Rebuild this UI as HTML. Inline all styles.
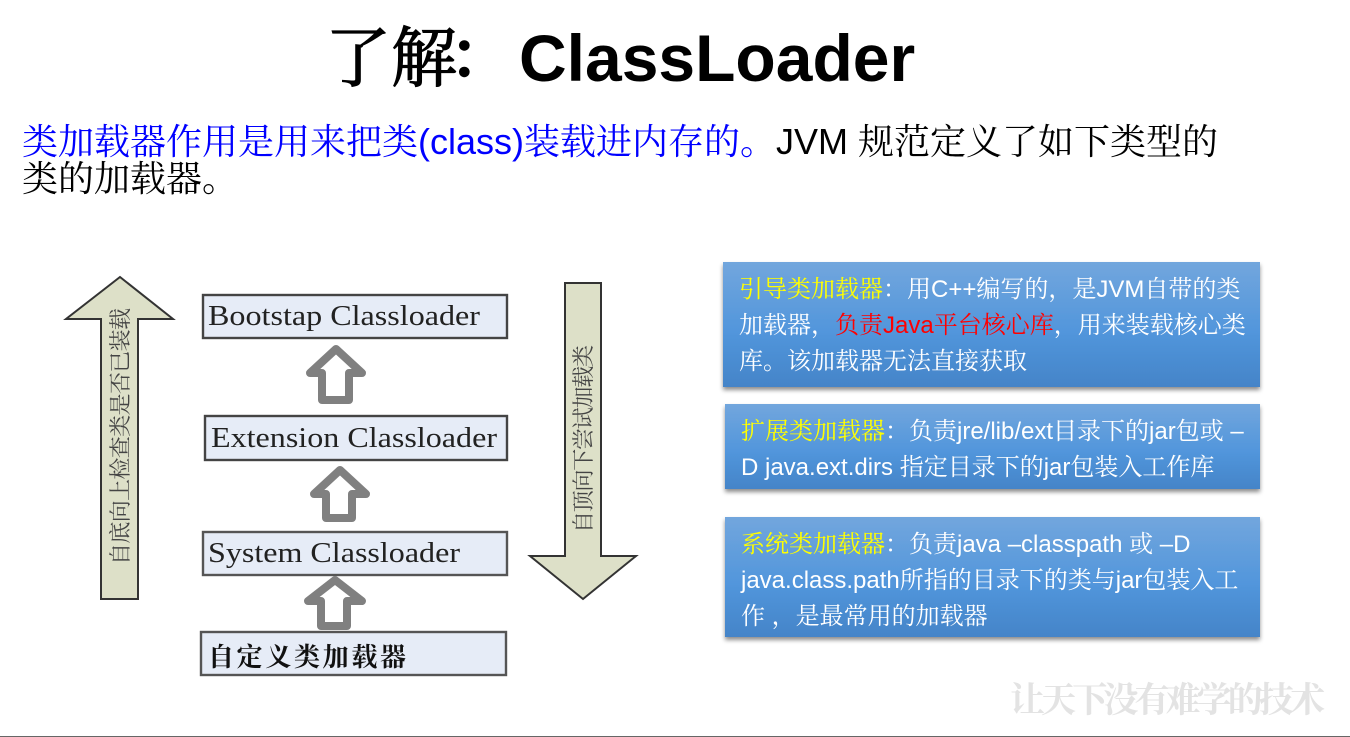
<!DOCTYPE html>
<html lang="zh">
<head>
<meta charset="utf-8">
<title>了解:ClassLoader</title>
<style>
html,body{margin:0;padding:0;background:#fff;width:1350px;height:737px;overflow:hidden}
svg{display:block;position:absolute;left:0;top:0}
text{white-space:pre}
.s{font-family:"Liberation Sans","Noto Serif CJK SC",serif}
.w{font-family:"Liberation Sans","Noto Serif CJK SC",serif}
.lab{font-family:"Liberation Serif",serif;font-size:28px;fill:#222}
.v{font-family:"Noto Serif CJK SC",serif;font-size:22px;fill:#444}
.b{font-size:24px;fill:#fff}
.y{fill:#ff0}
.r{fill:#f00}
</style>
</head>
<body>
<svg width="1350" height="737" viewBox="0 0 1350 737" xmlns="http://www.w3.org/2000/svg">
<defs>
<linearGradient id="g" x1="0" y1="0" x2="0" y2="1">
<stop offset="0" stop-color="#72a6dd"/>
<stop offset=".55" stop-color="#5296dc"/>
<stop offset="1" stop-color="#4484c8"/>
</linearGradient>
<filter id="sh" x="-5%" y="-10%" width="110%" height="125%">
<feDropShadow dx="0" dy="3" stdDeviation="2.2" flood-color="#000" flood-opacity=".45"/>
</filter>
</defs>

<text class="s" x="325" y="81" font-size="66" fill="#000" stroke="#000" stroke-width="1.2">了解</text>
<text class="s" x="449" y="78" font-size="66" fill="#000" stroke="#000" stroke-width="2.5">&#xFF1A;</text>
<text class="s" x="519" y="81" font-size="66" font-weight="700" fill="#000">ClassLoader</text>

<text class="s" x="22" y="154" font-size="36" fill="#000"><tspan fill="#0000ff">类加载器作用是用来把类(class)装载进内存的。</tspan>JVM 规范定义了如下类型的</text>
<text class="s" x="22" y="191" font-size="36" fill="#000">类的加载器。</text>

<polygon points="120,277 173,319 138,319 138,599 101,599 101,319 66,319" fill="#dde0c8" stroke="#333" stroke-width="2"/>
<polygon points="565,283 601,283 601,556 636,556 583,599 530,556 565,556" fill="#dde0c8" stroke="#333" stroke-width="2"/>
<text class="v" transform="translate(128,565) rotate(-90)" textLength="257">自底向上检查类是否已装载</text>
<text class="v" transform="translate(591,533) rotate(-90)" textLength="188">自顶向下尝试加载类</text>

<rect x="203" y="295" width="304" height="43" fill="#e6ecf7" stroke="#444" stroke-width="2.4"/>
<rect x="205" y="416" width="302" height="44" fill="#e6ecf7" stroke="#444" stroke-width="2.4"/>
<rect x="203" y="532" width="304" height="43" fill="#e6ecf7" stroke="#555" stroke-width="2.4"/>
<rect x="201" y="632" width="305" height="43" fill="#e6ecf7" stroke="#555" stroke-width="2.4"/>
<text class="lab" x="208" y="325" textLength="272" lengthAdjust="spacingAndGlyphs">Bootstap Classloader</text>
<text class="lab" x="211" y="447" textLength="286" lengthAdjust="spacingAndGlyphs">Extension Classloader</text>
<text class="lab" x="208" y="562" textLength="252" lengthAdjust="spacingAndGlyphs">System Classloader</text>
<text x="208" y="666" font-family="'Noto Serif CJK SC',serif" font-size="26" font-weight="700" fill="#111" textLength="198">自定义类加载器</text>

<g fill="#fff" stroke="#808080" stroke-width="8" stroke-linejoin="round">
<polygon points="336,349 362,373 349,373 349,400 322,400 322,373 310,373"/>
<polygon points="340,470 366,494 352,494 352,518 326,518 326,494 314,494"/>
<polygon points="335,580 362,601 347,601 347,626 321,626 321,601 308,601"/>
</g>

<rect x="723" y="262" width="537" height="125" fill="url(#g)" filter="url(#sh)"/>
<rect x="725" y="404" width="535" height="85" fill="url(#g)" filter="url(#sh)"/>
<rect x="725" y="517" width="535" height="120" fill="url(#g)" filter="url(#sh)"/>

<g class="w">
<text class="b" x="739" y="297"><tspan class="y">引导类加载器</tspan>&#xFF1A;用C++编写的&#xFF0C;是JVM自带的类</text>
<text class="b" x="739" y="333">加载器&#xFF0C;<tspan class="r">负责Java平台核心库</tspan>&#xFF0C;用来装载核心类</text>
<text class="b" x="739" y="369">库。该加载器无法直接获取</text>
<text class="b" x="741" y="439"><tspan class="y">扩展类加载器</tspan>&#xFF1A;负责jre/lib/ext目录下的jar包或 –</text>
<text class="b" x="741" y="475">D java.ext.dirs 指定目录下的jar包装入工作库</text>
<text class="b" x="741" y="552"><tspan class="y">系统类加载器</tspan>&#xFF1A;负责java –classpath 或 –D</text>
<text class="b" x="741" y="588">java.class.path所指的目录下的类与jar包装入工</text>
<text class="b" x="741" y="624">作 &#xFF0C;是最常用的加载器</text>
</g>

<text x="1010" y="712" font-family="'Noto Serif CJK SC',serif" font-size="35" font-weight="700" fill="#e3e3e3" textLength="315">让天下没有难学的技术</text>

<rect x="0" y="736" width="1350" height="1" fill="#666"/>
</svg>
</body>
</html>
